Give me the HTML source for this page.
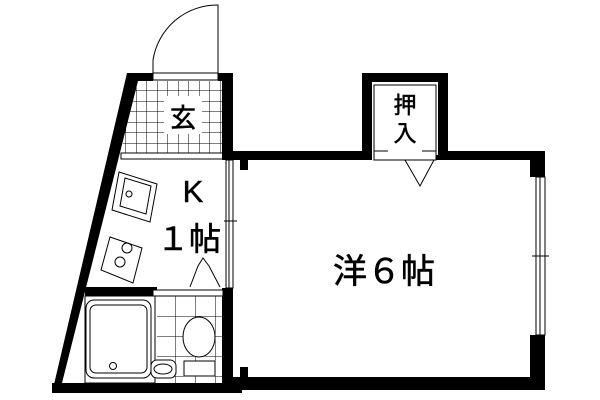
<!DOCTYPE html><html><head><style>body{margin:0;background:#fff}svg{display:block}text{font-family:"Liberation Sans","Noto Sans CJK JP",sans-serif}</style></head><body>
<svg width="600" height="400" viewBox="0 0 600 400" xmlns="http://www.w3.org/2000/svg">
<defs><pattern id="g" width="10.5" height="10.5" patternUnits="userSpaceOnUse" x="136" y="80"><path d="M0 0H10.5M0 0V10.5" stroke="#000" stroke-width="1" fill="none"/></pattern>
<pattern id="t" width="20" height="20" patternUnits="userSpaceOnUse" x="155" y="296"><path d="M0 0H20M0 0V20" stroke="#000" stroke-width="1" fill="none"/></pattern></defs>
<polygon points="134,81 222,81 222,154 121,154" fill="url(#g)"/>
<rect x="121" y="153" width="102" height="6" fill="#fff" stroke="#000"/>
<rect x="164" y="96" width="38" height="38" fill="#fff"/>
<text x="183" y="127" font-size="26" text-anchor="middle" stroke="#000" stroke-width="0.6">玄</text>
<path d="M153 73V60A65 65 0 0 1 218 5V73" fill="none" stroke="#000"/>
<rect x="153" y="73" width="65" height="7" fill="#fff" stroke="#000"/>
<g fill="#000">
<polygon points="127,73 153,73 153,81 138,81 62,383 52,393"/>
<rect x="218" y="73" width="15" height="8"/>
<rect x="222" y="73" width="11" height="87"/>
<rect x="222" y="151" width="140" height="9"/>
<rect x="362" y="73" width="86" height="9"/>
<rect x="362" y="73" width="10" height="87"/>
<rect x="438" y="73" width="10" height="87"/>
<rect x="436" y="151" width="109" height="9"/>
<rect x="530" y="151" width="15" height="26"/>
<rect x="530" y="335" width="15" height="55"/>
<rect x="233" y="377" width="312" height="13"/>
<rect x="52" y="383" width="190" height="10"/>
<rect x="222" y="288" width="11" height="105"/>
<rect x="85" y="287" width="72" height="9"/>
</g>
<rect x="248" y="160" width="282" height="217" fill="#fff"/>
<rect x="240" y="160" width="8" height="10" fill="#000"/><rect x="240" y="367" width="8" height="10" fill="#000"/>
<rect x="530" y="160" width="8" height="6" fill="#000"/><rect x="530" y="367" width="8" height="10" fill="#000"/>
<rect x="233" y="160" width="7" height="217" fill="#fff"/>
<rect x="536" y="177" width="9" height="158" fill="#fff" stroke="#000"/><line x1="540" y1="177" x2="540" y2="335" stroke="#000"/>
<line x1="532" y1="256" x2="549" y2="256" stroke="#000"/>
<rect x="226" y="160" width="7" height="128" fill="#fff" stroke="#000"/><line x1="229" y1="160" x2="229" y2="288" stroke="#000"/>
<line x1="224" y1="221" x2="237" y2="221" stroke="#000"/>
<rect x="372" y="82" width="66" height="73" fill="#fff"/>
<rect x="374" y="85" width="62" height="75" fill="none" stroke="#000"/>
<line x1="374" y1="151" x2="388" y2="151" stroke="#000"/><line x1="422" y1="151" x2="436" y2="151" stroke="#000"/>
<path d="M405 160L420 186L434 160" fill="none" stroke="#000"/>
<text x="405" y="113" font-size="23" text-anchor="middle" stroke="#000" stroke-width="0.5">押</text>
<text x="405" y="141" font-size="23" text-anchor="middle" stroke="#000" stroke-width="0.5">入</text>
<text x="384" y="283" font-size="34" text-anchor="middle" stroke="#000" stroke-width="0.6">洋６帖</text>
<text x="193" y="202" font-size="31" text-anchor="middle" stroke="#000" stroke-width="0.5">K</text>
<text x="189" y="250" font-size="32" text-anchor="middle" stroke="#000" stroke-width="0.6">１帖</text>
<g fill="none" stroke="#000">
<polygon points="119,172 157,184 150,222 112,210"/><polygon points="125,178 151,186 146,214 120,206"/>
<circle cx="129" cy="194" r="3"/>
<polygon points="110,237 142,248 133,283 101,270"/>
<circle cx="127" cy="248" r="5"/><circle cx="120" cy="262" r="5"/>
<path d="M190 287L198 266L203 258L209 266L220 287"/>
<rect x="85" y="296" width="70" height="87"/>
<rect x="86" y="300" width="65" height="78" rx="8"/>
<rect x="90" y="305" width="57" height="68" rx="6"/>
<circle cx="113" cy="366" r="3.5"/>
</g>
<rect x="157" y="296" width="65" height="87" fill="url(#t)"/>
<rect x="153" y="290" width="70" height="6" fill="#fff" stroke="#000"/>
<g fill="#fff" stroke="#000">
<ellipse cx="199" cy="337" rx="16" ry="20"/>
<rect x="184" y="361" width="31" height="15"/>
<rect x="151" y="360" width="25" height="18" rx="6"/>
<ellipse cx="163" cy="369" rx="9" ry="5"/>
</g>
</svg>
</body></html>
